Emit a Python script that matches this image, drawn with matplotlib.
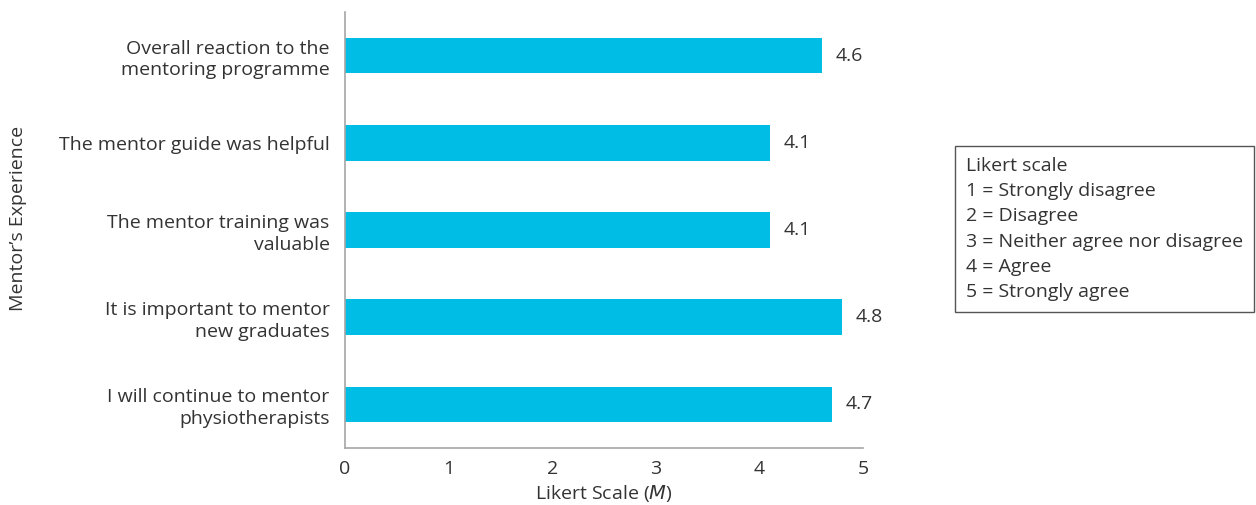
import matplotlib.pyplot as plt

# Data (top to bottom)
items = [
    "Overall reaction to the\nmentoring programme",
    "The mentor guide was helpful",
    "The mentor training was\nvaluable",
    "It is important to mentor\nnew graduates",
    "I will continue to mentor\nphysiotherapists",
]
means = [4.6, 4.1, 4.1, 4.8, 4.7]
x_ticks = [0, 1, 2, 3, 4, 5]
legend_lines = [
    "Likert scale",
    "1 = Strongly disagree",
    "2 = Disagree",
    "3 = Neither agree nor disagree",
    "4 = Agree",
    "5 = Strongly agree",
]

BAR_COLOR = '#00BDE6'
TEXT_COLOR = '#333333'
AXIS_COLOR = '#A6A6A6'
FS = 14

plt.rcParams['font.family'] = ['Open Sans', 'DejaVu Sans']


def plot_data():
    fig = plt.figure(figsize=(12.56, 5.05), dpi=100)
    ax = fig.add_axes([0.2747, 0.1129, 0.4125, 0.8633])

    pos = list(range(len(items)))[::-1]
    ax.barh(pos, means, height=0.41, color=BAR_COLOR)

    # value labels at the end of each bar
    for p, v in zip(pos, means):
        ax.text(v + 0.13, p, f"{v:.1f}", va='center', ha='left',
                fontsize=FS, color=TEXT_COLOR)

    ax.set_xlim(0, 5)
    ax.set_ylim(-0.5, len(items) - 0.5)
    ax.set_xticks(x_ticks)
    ax.set_yticks(pos)
    ax.set_yticklabels(items, fontsize=FS, color=TEXT_COLOR, linespacing=1.27)
    ax.tick_params(axis='x', labelsize=FS, colors=TEXT_COLOR, length=0, pad=9)
    ax.tick_params(axis='y', length=0, pad=11)

    for side in ['top', 'right']:
        ax.spines[side].set_visible(False)
    for side in ['left', 'bottom']:
        ax.spines[side].set_color(AXIS_COLOR)
        ax.spines[side].set_linewidth(1.2)

    ax.set_xlabel("Likert Scale ($\\mathit{M}$)", fontsize=FS, color=TEXT_COLOR, labelpad=3)
    fig.text(0.0145, 0.568, "Mentor\u2019s Experience", rotation=90, va='center', ha='center',
             fontsize=FS, color=TEXT_COLOR)

    # Likert scale key box
    fig.text(0.769, 0.5465, "\n".join(legend_lines), fontsize=FS, color=TEXT_COLOR,
             va='center', ha='left', linespacing=1.52,
             bbox=dict(boxstyle='square,pad=0.55', facecolor='white',
                       edgecolor='#555555', linewidth=1.0))

    fig.savefig('out.png', dpi=100)


if __name__ == '__main__':
    plot_data()
